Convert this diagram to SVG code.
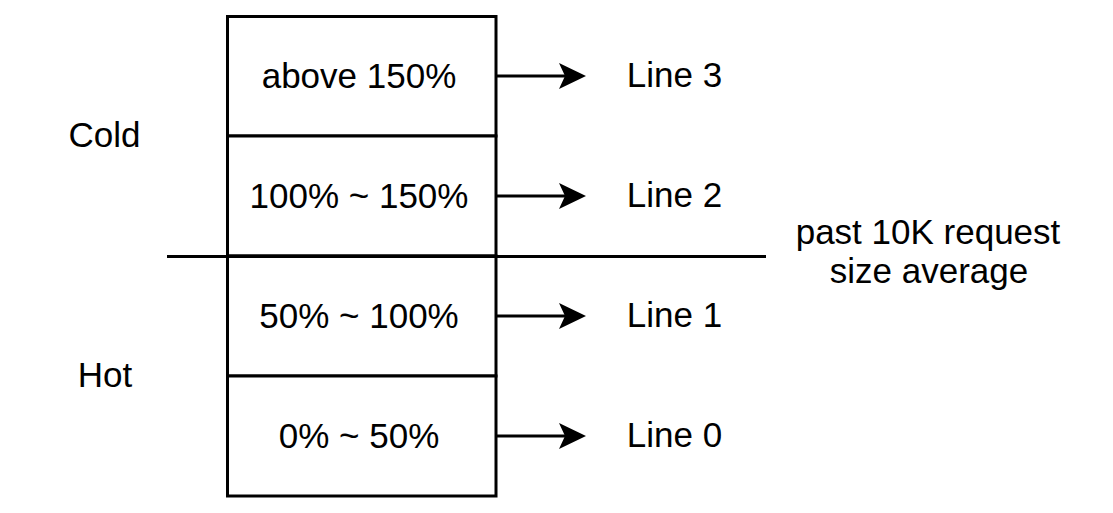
<svg xmlns="http://www.w3.org/2000/svg" width="1113" height="513" viewBox="0 0 1113 513">
<defs>
<style>
.box{fill:#fff;stroke:#000;stroke-width:3}
.ln{fill:none;stroke:#000;stroke-width:3}
text{font-family:"Liberation Sans",Arial,sans-serif;font-size:35px;fill:#000;text-anchor:middle}
</style>
<marker id="arr" markerUnits="userSpaceOnUse" markerWidth="30" markerHeight="30" refX="6" refY="13" orient="auto">
<path d="M0,0 L27,13 L0,26 L6,13 Z" fill="#000"/>
</marker>
</defs>
<rect width="1113" height="513" fill="#fff"/>
<g id="row3"><rect class="box" x="227.5" y="16.5" width="268.5" height="119.5"/><text x="359" y="87.5">above 150%</text></g>
<g id="row2"><rect class="box" x="227.5" y="136" width="268.5" height="120"/><text x="359" y="207.5">100% ~ 150%</text></g>
<g id="row1"><rect class="box" x="227.5" y="256" width="268.5" height="120"/><text x="359" y="327.5">50% ~ 100%</text></g>
<g id="row0"><rect class="box" x="227.5" y="376" width="268.5" height="120"/><text x="359" y="447.5">0% ~ 50%</text></g>
<g id="connectors">
<line class="ln" x1="167" y1="256.5" x2="766" y2="256.5"/>
<line class="ln" x1="497" y1="76" x2="565" y2="76" marker-end="url(#arr)"/>
<line class="ln" x1="497" y1="196" x2="565" y2="196" marker-end="url(#arr)"/>
<line class="ln" x1="497" y1="316" x2="565" y2="316" marker-end="url(#arr)"/>
<line class="ln" x1="497" y1="436" x2="565" y2="436" marker-end="url(#arr)"/>
</g>
<g id="line3"><text x="674.5" y="87">Line 3</text></g>
<g id="line2"><text x="674.5" y="207">Line 2</text></g>
<g id="line1"><text x="674.5" y="327">Line 1</text></g>
<g id="line0"><text x="674.5" y="447">Line 0</text></g>
<g id="cold"><text x="104.5" y="146.5">Cold</text></g>
<g id="hot"><text x="105" y="386.5">Hot</text></g>
<g id="caption"><text x="928" y="244">past 10K request</text><text x="929" y="283">size average</text></g>
</svg>
